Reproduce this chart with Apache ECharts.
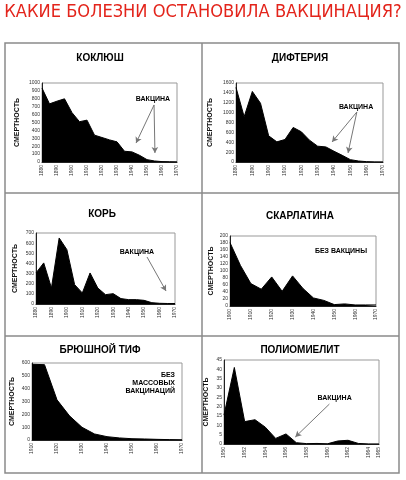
<!DOCTYPE html>
<html><head><meta charset="utf-8">
<script src="https://cdn.jsdelivr.net/npm/echarts@6/dist/echarts.min.js"></script>
<style>html,body{margin:0;padding:0;background:#fff}#c{width:406px;height:480px}</style>
</head><body><div id="c"></div>
<script>
const mainTitle = 'КАКИЕ БОЛЕЗНИ ОСТАНОВИЛА ВАКЦИНАЦИЯ?';
const yName = 'СМЕРТНОСТЬ';
const titles = ['КОКЛЮШ','ДИФТЕРИЯ','КОРЬ','СКАРЛАТИНА','БРЮШНОЙ ТИФ','ПОЛИОМИЕЛИТ'];

const years1880 = [1880,1885,1890,1895,1900,1905,1910,1915,1920,1925,1930,1935,1940,1945,1950,1955,1960,1965,1970];
const pertussis = [936,736,770,800,625,510,530,340,310,280,255,136,128,85,30,13,5,3,2];
const diphtheria = [1510,918,1429,1190,530,408,456,700,612,442,320,306,218,136,48,20,7,2,1];
const measles = [306,405,158,651,536,191,109,306,158,92,102,53,43,43,36,13,7,5,5];
const years1900 = [1900,1905,1910,1915,1920,1925,1930,1935,1940,1945,1950,1955,1960,1965,1970];
const scarlet = [181,116,64,48,83,42,86,50,23,16,4,6,3,3,3];
const years1910 = [1910,1915,1920,1925,1930,1935,1940,1945,1950,1955,1960,1965,1970];
const typhoid = [590,587,313,188,99,47,26,16,10,8,5,3,2];
const years1950 = [1950,1951,1952,1953,1954,1955,1956,1957,1958,1959,1960,1961,1962,1963,1964,1965];
const polio = [15.5,41,12,13,9,3,5.4,0.7,0.2,0.3,0.1,1.6,2,0.3,0,0];

const labelVaccine = 'ВАКЦИНА';
const labelNoVaccine = 'БЕЗ ВАКЦИНЫ';
const labelNoMass = 'БЕЗ\nМАССОВЫХ\nВАКЦИНАЦИЙ';

// annotation anchors in data units [year, value]
const ann1 = {label:[1954,797], arrows:[[[1954.7,722],[1942.7,240]],[[1954.7,722],[1955.3,114]]]};
const ann2 = {label:[1953.5,1114], arrows:[[[1954,1013],[1938.8,405]],[[1954,1013],[1948.6,182]]]};
const ann3 = {label:[1945.4,513], arrows:[[[1951.9,463],[1964.2,128]]]};
const ann4 = {label:[1953.2,157], arrows:[]};
const ann5 = {label:[1967.2,444], arrows:[]};
const ann6 = {label:[1960.7,24.6], arrows:[[[1960.2,21.4],[1956.9,3.75]]]};

const panels = [
  {x:years1880, y:pertussis, min:1880, max:1970, xi:10, ymax:1000, yi:100, grid:{left:42, top:83, width:135, height:79}, gap:21, title:[100,59], ann:ann1, text:labelVaccine},
  {x:years1880, y:diphtheria, min:1880, max:1970, xi:10, ymax:1600, yi:200, grid:{left:236, top:83, width:147, height:79}, gap:22, title:[300,59], ann:ann2, text:labelVaccine},
  {x:years1880, y:measles, min:1880, max:1970, xi:10, ymax:700, yi:100, grid:{left:36, top:233, width:139, height:71}, gap:17, title:[102,215], ann:ann3, text:labelVaccine},
  {x:years1900, y:scarlet, min:1900, max:1970, xi:10, ymax:200, yi:20, grid:{left:230, top:236, width:146, height:70}, gap:15, title:[300,217], ann:ann4, text:labelNoVaccine},
  {x:years1910, y:typhoid, min:1910, max:1970, xi:10, ymax:600, yi:100, grid:{left:32, top:363, width:150, height:77}, gap:16, title:[100,351], ann:ann5, text:labelNoMass, align:'right'},
  {x:years1950, y:polio, min:1950, max:1965, xi:2, ymax:45, yi:5, grid:{left:224, top:360, width:155, height:84}, gap:14, title:[300,351], ann:ann6, text:labelVaccine}
];

const chart = echarts.init(document.getElementById('c'), null, {renderer:'canvas'});
const font = 'Liberation Sans, Arial, sans-serif';
const option = {
  animation:false,
  backgroundColor:'#fff',
  title: [{text:mainTitle, left:203, top:3, textAlign:'center', padding:0,
    textStyle:{color:'#e3241b', fontSize:18.1, fontWeight:'normal', fontFamily:'"DejaVu Sans Condensed", sans-serif'}}]
    .concat(panels.map((p,i)=>({text:titles[i], left:p.title[0], top:p.title[1]-6, textAlign:'center', padding:0,
      textStyle:{color:'#000', fontSize:10, fontWeight:'bold', fontFamily:font}}))),
  grid: panels.map(p=>Object.assign({show:true, borderColor:'#999', borderWidth:1, backgroundColor:'#fff'}, p.grid)),
  xAxis: panels.map((p,i)=>({type:'value', gridIndex:i, min:p.min, max:p.max, interval:p.xi,
    splitLine:{show:false}, axisTick:{show:false},
    axisLine:{show:true, lineStyle:{color:'#222', width:1}},
    axisLabel:{rotate:90, fontSize:5, color:'#333', margin:3, fontFamily:font, formatter:v=>String(v)}})),
  yAxis: panels.map((p,i)=>({type:'value', gridIndex:i, min:0, max:p.ymax, interval:p.yi,
    name:yName, nameLocation:'middle', nameGap:p.gap, nameRotate:90,
    nameTextStyle:{fontSize:7, fontWeight:'bold', color:'#111', fontFamily:font},
    splitLine:{show:false}, axisTick:{show:false},
    axisLine:{show:true, lineStyle:{color:'#222', width:1}},
    axisLabel:{fontSize:5, color:'#333', margin:2, fontFamily:font, formatter:v=>String(v)}})),
  series: panels.map((p,i)=>({
    type:'line', xAxisIndex:i, yAxisIndex:i, symbol:'none', silent:true,
    data:p.x.map((yr,k)=>[yr,p.y[k]]),
    lineStyle:{color:'#000', width:1}, areaStyle:{color:'#000', opacity:1},
    markPoint:{symbol:'circle', symbolSize:0, silent:true,
      label:{show:true, position:'inside', formatter:p.text, fontSize:7, fontWeight:'bold', color:'#000',
        fontFamily:font, align:p.align||'center', lineHeight:8},
      data:[{coord:p.ann.label}]},
    markLine:{silent:true, symbol:['none','arrow'], symbolSize:[5,6], animation:false,
      lineStyle:{color:'#777', width:1, type:'solid'}, label:{show:false},
      data:p.ann.arrows.map(a=>[{coord:a[0]},{coord:a[1], symbol:'arrow', itemStyle:{color:'#000'}}])}
  })),
  graphic:[
    {type:'rect', shape:{x:5, y:43, width:394, height:430}, style:{fill:'none', stroke:'#8a8a8a', lineWidth:1.5}, z:100},
    {type:'line', shape:{x1:202, y1:43, x2:202, y2:473}, style:{stroke:'#8a8a8a', lineWidth:1.5}, z:100},
    {type:'line', shape:{x1:5, y1:193, x2:399, y2:193}, style:{stroke:'#8a8a8a', lineWidth:1.5}, z:100},
    {type:'line', shape:{x1:5, y1:336, x2:399, y2:336}, style:{stroke:'#8a8a8a', lineWidth:1.5}, z:100}
  ]
};
chart.setOption(option);
</script></body></html>
